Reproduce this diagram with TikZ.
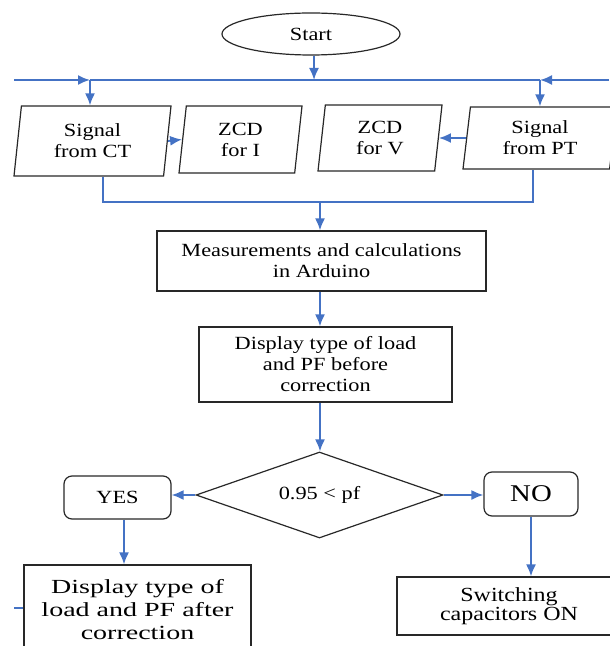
\documentclass[tikz,border=0pt]{standalone}
\usepackage{fontspec}
\setmainfont{Liberation Serif}[FakeStretch=1.2]
\newfontfamily\widefont{Liberation Serif}[FakeStretch=1.4]
\usetikzlibrary{arrows.meta,shapes.geometric}
\definecolor{flowblue}{RGB}{68,114,196}
\definecolor{boxline}{RGB}{40,40,40}

\begin{document}
\begin{tikzpicture}[
  x=0.5pt,y=-0.5pt,
  font=\fontsize{9.3}{10.5}\selectfont,
  box/.style={draw=boxline,line width=0.6pt,align=center,inner sep=2pt},
  io/.style={box,trapezium,trapezium left angle=80,trapezium right angle=100,
             trapezium stretches body},
  rbox/.style={box,rounded corners=4pt},
  arr/.style={-{Latex[length=6pt,width=5pt]},flowblue,line width=0.9pt},
  wire/.style={flowblue,line width=0.9pt}
]
\useasboundingbox (0,0) rectangle (609,646);
\node[box,ellipse,minimum width=89pt,minimum height=21pt] (start) at (311,34) {Start};
\node[io,minimum width=78.5pt,minimum height=35pt] (ct) at (92.5,141) {Signal\\from CT};
\node[io,minimum width=61.5pt,minimum height=33.5pt] (zci) at (240.5,139.5) {ZCD\\for I};
\node[io,minimum width=62pt,minimum height=33pt] (zcv) at (380,138) {ZCD\\for V};
\node[io,minimum width=77pt,minimum height=31pt] (pt) at (540,138) {Signal\\from PT};
\node[box,minimum width=164.5pt,minimum height=30pt] (meas) at (321.5,261)
  {Measurements and calculations\\in Arduino};
\node[box,minimum width=126.5pt,minimum height=37.5pt] (disp) at (325.5,364.5)
  {Display type of load\\and PF before\\correction};
\node[box,diamond,aspect=2.9,inner sep=0pt,minimum width=123.5pt,minimum height=43pt]
  (chk) at (319.5,495) {0.95 < pf};
\node[rbox,minimum width=53.5pt,minimum height=21.5pt] (yes) at (117.5,497.5) {YES};
\node[rbox,minimum width=47pt,minimum height=22pt,font=\fontsize{12}{12}\selectfont]
  (no) at (531,494) {NO};
\node[box,minimum width=113.5pt,minimum height=45pt,font=\widefont\fontsize{10}{11.5}\selectfont]
  (dispa) at (137.5,610) {Display type of\\load and PF after\\correction};
\node[box,minimum width=112pt,minimum height=29pt,font=\fontsize{10}{9.5}\selectfont]
  (sw) at (509,606) {Switching\\capacitors ON};
% input bus
\coordinate (jl) at (14,80);
\coordinate (jr) at (609,80);
\coordinate (jct) at (90,80);
\coordinate (jpt) at (540,80);
\coordinate (jst) at (314,80);
\draw[arr] (start.south -| jst) -- (jst);
\draw[arr] (jl) -- (jct);
\draw[wire] (jct) -- (jpt);
\draw[arr] (jr) -- (jpt);
\draw[arr] (jct) -- (jct |- ct.north);
\draw[arr] (jpt) -- (jpt |- pt.north);
\draw[arr] (ct.east) -- (zci.west);
\draw[arr] (pt.west) -- (zcv.east);
% merge into arduino
\coordinate (ml) at (103,202);
\coordinate (mr) at (533,202);
\coordinate (mc) at (320,202);
\draw[wire] (ml |- ct.south) -- (ml) -- (mr) -- (mr |- pt.south);
\draw[arr] (mc) -- (mc |- meas.north);
\draw[arr] (mc |- meas.south) -- (mc |- disp.north);
\draw[arr] (mc |- disp.south) -- (mc |- chk.north);
\draw[arr] (chk.west) -- (chk.west -| yes.east);
\draw[arr] (chk.east) -- (chk.east -| no.west);
\draw[arr] ([xshift=3.25pt]yes.south) -- ([xshift=3.25pt]yes.south |- dispa.north);
\draw[arr] (no) -- (no |- sw.north);
\coordinate (lf) at (14,608);
\draw[wire] (lf) -- (lf -| dispa.west);
\end{tikzpicture}
\end{document}
